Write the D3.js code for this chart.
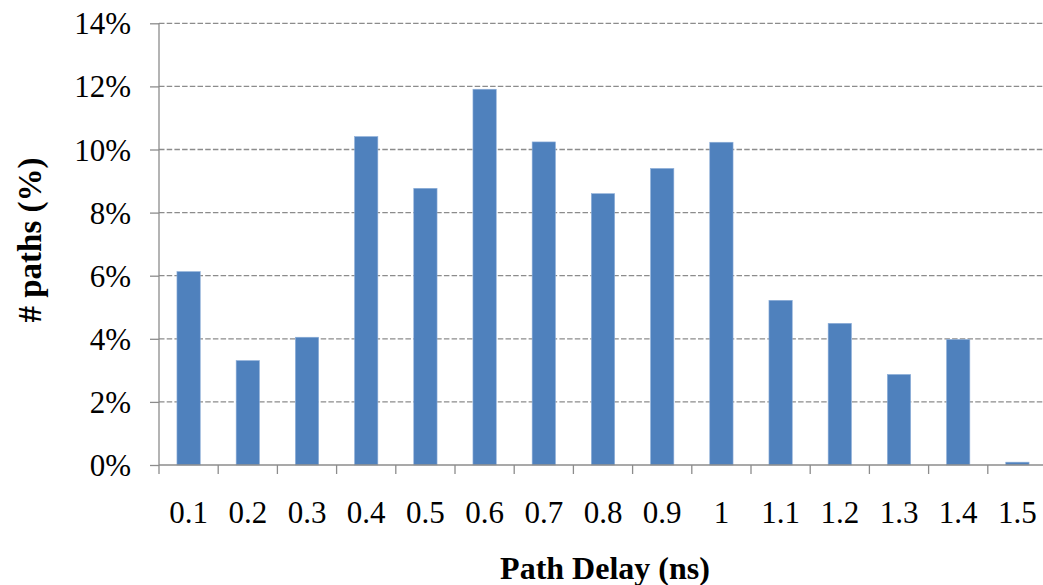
<!DOCTYPE html>
<html>
<head>
<meta charset="utf-8">
<script src="https://cdn.jsdelivr.net/npm/d3@7"></script>
<style>
  html, body { margin: 0; padding: 0; background: #fff; }
  svg { display: block; }
</style>
</head>
<body>
<svg id="chart" width="1043" height="585"></svg>
<script>
const categories = ["0.1","0.2","0.3","0.4","0.5","0.6","0.7","0.8","0.9","1","1.1","1.2","1.3","1.4","1.5"];
const values = [6.13, 3.31, 4.05, 10.41, 8.77, 11.91, 10.24, 8.60, 9.40, 10.23, 5.22, 4.49, 2.87, 3.98, 0.09];
const yTicks = [0, 2, 4, 6, 8, 10, 12, 14];
const xTitle = "Path Delay (ns)";
const yTitle = "# paths (%)";

(function () {
const svg = d3.select("#chart");
const mLeft = 159, mRight = 1047, mTop = 23.3, mBottom = 465;
const font = "'Liberation Serif', 'Times New Roman', serif";

const x = d3.scaleBand().domain(categories).range([mLeft, mRight]).padding(0);
const y = d3.scaleLinear().domain([0, 14]).range([mBottom, mTop]);

// gridlines
svg.append("g").selectAll("line").data(yTicks.filter(d => d > 0)).join("line")
  .attr("x1", mLeft).attr("x2", 1043)
  .attr("y1", d => y(d)).attr("y2", d => y(d))
  .attr("stroke", "#8c8c8c").attr("stroke-width", 1.3)
  .attr("stroke-dasharray", "5.5,2.2");

// bars
const bw = 23.3;
svg.append("g").selectAll("rect").data(values).join("rect")
  .attr("x", (d, i) => x(categories[i]) + x.bandwidth() / 2 - bw / 2)
  .attr("y", d => y(d))
  .attr("width", bw)
  .attr("height", d => mBottom - y(d))
  .attr("fill", "#4f81bd")
  .attr("stroke", "#8fb0d9").attr("stroke-width", 0.6);

// y axis
const yAxis = d3.axisLeft(y).tickValues(yTicks).tickSize(9).tickFormat(d => d + "%");
const gy = svg.append("g").attr("transform", `translate(${mLeft},0)`).call(yAxis);
gy.select(".domain").attr("stroke", "#8c8c8c").attr("stroke-width", 1.3).attr("d", `M0,${mTop}V${mBottom}`);
gy.selectAll(".tick line").attr("stroke", "#8c8c8c").attr("stroke-width", 1.3);
gy.selectAll(".tick text").attr("font-family", font).attr("font-size", 31).attr("fill", "#000")
  .attr("x", -28).attr("dy", "0.34em");

// x axis
const xAxis = d3.axisBottom(x).tickSize(0).tickSizeOuter(0);
const gx = svg.append("g").attr("transform", `translate(0,${mBottom})`).call(xAxis);
gx.select(".domain").attr("stroke", "#8c8c8c").attr("stroke-width", 1.3).attr("d", `M${mLeft},0H1043`);
gx.selectAll(".tick text").attr("font-family", font).attr("font-size", 31).attr("fill", "#000")
  .attr("y", 0).attr("dy", 0).attr("transform", "translate(0,58)");
// boundary tick marks
const bounds = categories.map(c => x(c));
svg.append("g").selectAll("line").data(bounds).join("line")
  .attr("x1", d => d).attr("x2", d => d)
  .attr("y1", mBottom).attr("y2", mBottom + 9)
  .attr("stroke", "#8c8c8c").attr("stroke-width", 1.3);

// titles
svg.append("text").attr("x", 605).attr("y", 579)
  .attr("text-anchor", "middle").attr("font-family", font).attr("font-weight", "bold")
  .attr("font-size", 32).text(xTitle);
svg.append("text").attr("transform", "translate(41,240) rotate(-90)")
  .attr("text-anchor", "middle").attr("font-family", font).attr("font-weight", "bold")
  .attr("font-size", 33).text(yTitle);
})();
</script>
</body>
</html>
